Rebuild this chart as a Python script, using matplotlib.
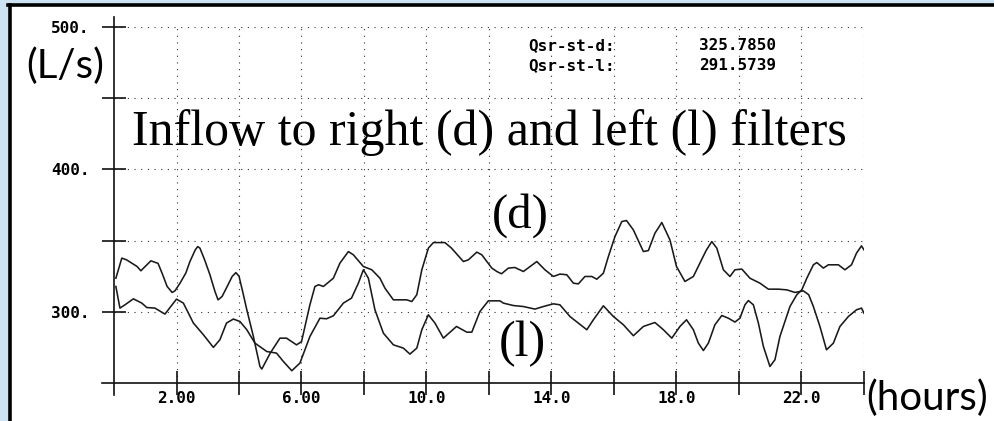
import matplotlib
matplotlib.use("Agg")
import matplotlib.pyplot as plt
from matplotlib.lines import Line2D
from matplotlib.patches import Rectangle
from matplotlib.ticker import FixedLocator

# ---------------- data ----------------
d_hours = [0.06, 0.25, 0.40, 0.74, 0.86, 1.18, 1.41, 1.54, 1.70, 1.86, 1.95, 2.11, 2.30, 2.43,
           2.60, 2.68, 2.75, 2.90, 3.07, 3.23, 3.33, 3.46, 3.65, 3.78, 3.90, 4.00, 4.13, 4.25,
           4.46, 4.67, 4.73, 5.00, 5.31, 5.52, 5.84, 6.00, 6.27, 6.43, 6.55, 6.70, 7.02, 7.23,
           7.50, 7.66, 7.98, 8.25, 8.51, 8.67, 8.94, 9.37, 9.53, 9.69, 9.85, 10.06, 10.22,
           10.59, 10.80, 11.18, 11.34, 11.61, 11.77, 12.09, 12.25, 12.40, 12.62, 12.83, 13.10,
           13.53, 13.79, 14.06, 14.27, 14.49, 14.70, 14.86, 15.07, 15.29, 15.45, 15.66, 15.82,
           16.03, 16.25, 16.40, 16.62, 16.94, 17.10, 17.31, 17.53, 17.79, 18.00, 18.27, 18.54,
           18.80, 18.96, 19.13, 19.29, 19.50, 19.71, 19.87, 20.09, 20.35, 20.67, 20.94, 21.26,
           21.53, 21.79, 22.06, 22.23, 22.38, 22.59, 22.80, 23.02, 23.23, 23.50, 23.76, 23.92,
           24.00]
d_flow = [323.6, 337.7, 336.5, 331.8, 328.8, 335.8, 334.0, 327.0, 317.8, 313.6, 314.7, 320.0,
          327.3, 335.3, 343.5, 345.8, 344.7, 336.5, 326.0, 314.3, 308.4, 310.8, 319.0, 324.8,
          327.5, 325.0, 313.0, 301.4, 282.7, 261.6, 259.8, 271.0, 281.5, 281.5, 276.8, 279.0,
          305.0, 317.8, 319.0, 317.8, 323.6, 334.2, 342.3, 340.0, 331.8, 329.5, 323.6, 316.6,
          308.4, 308.4, 307.2, 312.0, 329.5, 344.7, 348.6, 348.6, 344.7, 335.3, 336.5, 341.9,
          340.0, 330.7, 328.3, 326.7, 330.7, 331.1, 328.3, 335.3, 329.5, 324.8, 326.5, 326.0,
          320.1, 319.6, 324.8, 324.8, 322.9, 327.1, 338.8, 352.8, 363.4, 364.1, 357.5, 342.3,
          343.0, 355.2, 362.7, 350.5, 331.8, 321.3, 324.8, 336.5, 343.5, 349.3, 344.7, 329.5,
          324.8, 329.5, 330.0, 323.6, 320.1, 315.9, 315.9, 315.4, 313.6, 314.7, 312.0, 303.7,
          289.7, 273.3, 278.0, 289.7, 296.7, 301.4, 302.6, 299.0]

l_hours = [0.06, 0.19, 0.35, 0.62, 0.89, 1.05, 1.31, 1.63, 2.00, 2.22, 2.54, 2.86, 3.18, 3.39,
           3.60, 3.82, 4.03, 4.25, 4.51, 4.89, 5.20, 5.42, 5.69, 5.95, 6.27, 6.59, 6.80, 7.02,
           7.34, 7.60, 7.82, 7.98, 8.14, 8.35, 8.62, 8.94, 9.26, 9.47, 9.69, 9.85, 10.06, 10.27,
           10.54, 10.96, 11.29, 11.45, 11.71, 11.98, 12.35, 12.46, 12.78, 13.10, 13.47, 13.74,
           14.06, 14.27, 14.59, 15.13, 15.34, 15.66, 15.98, 16.30, 16.62, 16.94, 17.31, 17.58,
           17.85, 18.11, 18.32, 18.54, 18.70, 18.86, 19.02, 19.23, 19.45, 19.66, 19.87, 20.03,
           20.19, 20.30, 20.46, 20.62, 20.78, 20.99, 21.15, 21.31, 21.63, 21.85, 22.01, 22.17,
           22.38, 22.49, 22.70, 22.86, 23.18, 23.39, 23.60, 23.76, 23.92, 24.00]
l_flow = [317.8, 302.6, 304.9, 309.1, 306.1, 303.0, 302.6, 298.4, 308.9, 306.1, 292.1, 283.9,
          275.0, 280.4, 292.1, 294.9, 293.2, 287.4, 278.0, 272.1, 271.0, 265.1, 258.6, 264.0,
          282.7, 295.5, 295.1, 297.2, 306.1, 309.6, 320.1, 329.5, 323.6, 301.4, 285.0, 276.8,
          274.5, 270.3, 274.5, 287.4, 297.9, 292.1, 281.5, 289.7, 285.7, 285.7, 300.2, 307.7,
          307.7, 306.1, 304.4, 303.7, 301.9, 303.7, 305.6, 304.9, 296.7, 287.4, 294.4, 304.2,
          296.7, 290.9, 283.2, 289.7, 292.5, 287.4, 281.5, 289.7, 294.4, 287.4, 278.0, 272.8,
          278.0, 290.9, 297.4, 295.5, 292.8, 295.5, 304.9, 307.9, 304.9, 292.1, 275.7, 261.6,
          266.3, 282.7, 303.7, 312.0, 315.4, 323.6, 333.0, 334.6, 330.7, 333.0, 333.0, 329.5,
          333.0, 341.2, 346.3, 343.5]

x_major = [2, 6, 10, 14, 18, 22]
x_major_labels = ["2.00", "6.00", "10.0", "14.0", "18.0", "22.0"]
x_minor = [4, 8, 12, 16, 20, 24]
y_major = [300, 400, 500]
y_major_labels = ["300.", "400.", "500."]
y_minor = [350, 450]

title = "Inflow to right (d) and left (l) filters"
stat_names = ["Qsr-st-d:", "Qsr-st-l:"]
stat_values = ["325.7850", "291.5739"]

# ---------------- figure ----------------
W, H = 994, 421
fig = plt.figure(figsize=(W / 100, H / 100), dpi=100)
fig.patch.set_facecolor("#cde2f2")


def fx(px):
    return px / W


def fy(py):
    return 1 - py / H


# white panel with black top/left border
fig.patches.append(Rectangle((fx(10), 0), 1 - fx(10), fy(5), transform=fig.transFigure,
                             facecolor="white", edgecolor="none", zorder=-10))
fig.lines.append(Line2D([fx(9.5), fx(9.5)], [0, fy(4.5)], transform=fig.transFigure,
                        color="black", lw=2.6, zorder=-5))
fig.lines.append(Line2D([fx(8.2), 1], [fy(4.5), fy(4.5)], transform=fig.transFigure,
                        color="black", lw=2.6, zorder=-5))

ax_l, ax_r, ax_t, ax_b = 114, 864, 27, 383
ax = fig.add_axes([fx(ax_l), fy(ax_b), fx(ax_r - ax_l), (ax_b - ax_t) / H])
ax.set_facecolor("none")
ax.set_xlim(0, 24)
ax.set_ylim(250, 500)

for s in ax.spines.values():
    s.set_visible(False)

ax.xaxis.set_major_locator(FixedLocator(x_major))
ax.xaxis.set_minor_locator(FixedLocator(x_minor))
ax.set_xticklabels(x_major_labels)
ax.yaxis.set_major_locator(FixedLocator(y_major))
ax.yaxis.set_minor_locator(FixedLocator(y_minor))
ax.set_yticklabels(y_major_labels)

tick_font = dict(family="DejaVu Sans Mono", weight="bold", size=11.5)
for lab in ax.get_xticklabels() + ax.get_yticklabels():
    lab.set_fontfamily(tick_font["family"])
    lab.set_fontweight(tick_font["weight"])
    lab.set_fontsize(tick_font["size"])

ax.tick_params(axis="both", which="both", direction="inout", length=17, width=1.2,
               color="#111111")
ax.tick_params(axis="x", which="both", pad=-3)
ax.tick_params(axis="y", which="both", pad=9)

ax.grid(True, which="both", color="#333333", linestyle=(0, (1, 5)), linewidth=0.8)
ax.set_axisbelow(True)

# axis lines (extend slightly beyond the plotting box like the original)
ax.add_line(Line2D([0, 0], [-(395 - ax_b) / (ax_b - ax_t), 1 + (ax_t - 17) / (ax_b - ax_t)],
                   transform=ax.transAxes, color="#111111", lw=1.2, clip_on=False))
ax.add_line(Line2D([-(ax_l - 102) / (ax_r - ax_l), 1], [0, 0],
                   transform=ax.transAxes, color="#111111", lw=1.2, clip_on=False))

# series
ax.plot(d_hours, d_flow, color="#1a1a1a", lw=1.15, zorder=3)
ax.plot(l_hours, l_flow, color="#1a1a1a", lw=1.15, zorder=3)

# statistics box text
for i, (nm, val) in enumerate(zip(stat_names, stat_values)):
    yy = 46 + i * 20
    fig.text(fx(528), fy(yy), nm, ha="left", va="center", **tick_font)
    fig.text(fx(776), fy(yy), val, ha="right", va="center", **tick_font)

# titles / labels
serif = ["Liberation Serif", "DejaVu Serif"]
fig.text(fx(489), fy(145), title, ha="center", va="baseline", family=serif, size=36)
fig.text(fx(520), fy(228), "(d)", ha="center", va="baseline", family=serif, size=35)
fig.text(fx(522), fy(356), "(l)", ha="center", va="baseline", family=serif, size=36)

hand = ["Lato", "DejaVu Sans"]
fig.text(fx(65), fy(66), "(L/s)", ha="center", va="center", family=hand, weight="normal",
         size=29, color="black")
fig.text(fx(866), fy(398), "(hours)", ha="left", va="center", family=hand, weight="normal",
         size=29, color="black")

fig.savefig("out.png", dpi=100, facecolor=fig.get_facecolor())
